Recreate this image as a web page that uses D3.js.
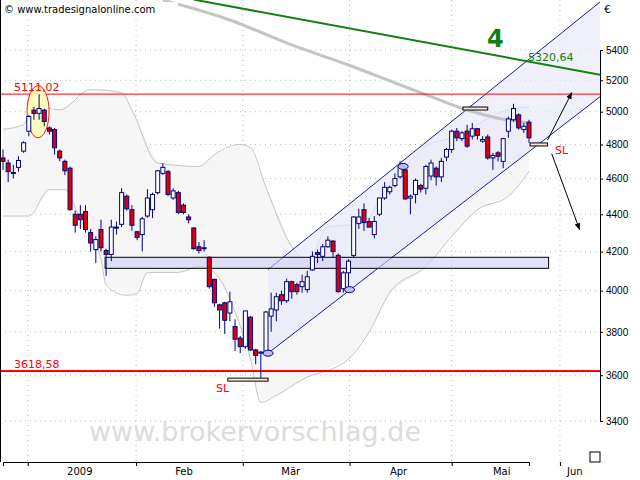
<!DOCTYPE html>
<html><head><meta charset="utf-8">
<script src="https://cdn.jsdelivr.net/npm/d3@7"></script>
<style>body{margin:0;background:#fff}svg{display:block;font-family:"DejaVu Sans",Verdana,sans-serif}</style>
</head><body><svg id="c" width="640" height="480"></svg>
<script>
// ---- data ----
const opens  = [4720,4690,4635,4665,4760,4880,5010,4990,5010,4900,4890,4760,4700,4660,4400,4400,4415,4300,4210,4317,4205,4185,4330,4345,4500,4425,4305,4290,4390,4425,4520,4630,4640,4490,4520,4450,4385,4325,4225,4215,4170,4057,3930,3940,3890,3825,3770,3730,3870,3715,3700,3705,3875,3905,3980,3950,4045,4030,4020,4005,4105,4195,4175,4225,4255,4180,4010,4090,4180,4350,4425,4360,4290,4400,4490,4525,4560,4610,4650,4490,4510,4560,4545,4615,4660,4610,4725,4770,4880,4835,4880,4850,4895,4820,4845,4720,4750,4700,4880,4950,4980,4890,4935];
const closes = [4700,4640,4630,4705,4810,4970,4990,5020,4940,4880,4780,4720,4645,4425,4340,4370,4317,4245,4263,4220,4185,4330,4325,4520,4430,4340,4275,4375,4490,4510,4645,4665,4510,4530,4410,4410,4370,4215,4205,4220,4020,3940,3905,3855,3945,3765,3730,3900,3715,3690,3705,3895,3910,3970,3950,4045,3995,3995,4045,4070,4175,4185,4225,4260,4200,3995,4090,4150,4385,4385,4355,4330,4360,4490,4550,4550,4600,4670,4485,4500,4590,4540,4670,4690,4610,4700,4770,4880,4840,4870,4790,4895,4855,4830,4720,4735,4730,4835,4955,5020,4900,4910,4840];
const highs  = [4770,4710,4680,4730,4820,4980,5030,5110,5020,4910,4900,4770,4710,4670,4420,4450,4450,4320,4280,4370,4215,4370,4360,4545,4510,4450,4310,4385,4540,4520,4650,4690,4650,4545,4530,4460,4400,4330,4250,4260,4175,4060,3935,3945,3995,3860,3780,3900,3875,3720,3710,3900,3990,3990,4000,4060,4050,4040,4080,4100,4200,4210,4240,4280,4260,4190,4100,4160,4390,4430,4460,4380,4390,4490,4580,4560,4630,4700,4680,4510,4600,4570,4680,4710,4670,4720,4780,4890,4900,4880,4920,4930,4900,4850,4860,4750,4760,4840,4970,5050,4990,4930,4950];
const lows   = [4650,4580,4600,4640,4750,4850,4950,4950,4910,4860,4740,4700,4620,4420,4300,4320,4300,4200,4140,4200,4075,4150,4290,4330,4420,4310,4260,4200,4380,4380,4510,4620,4500,4480,4400,4400,4350,4210,4190,4200,4010,3920,3815,3790,3850,3710,3700,3720,3710,3650,3590,3690,3800,3850,3930,3940,3960,3980,3990,3990,4100,4140,4150,4220,4170,3990,3990,4010,4170,4320,4310,4330,4270,4390,4480,4510,4550,4600,4480,4400,4460,4520,4510,4590,4560,4580,4700,4750,4820,4820,4780,4830,4830,4810,4710,4650,4700,4660,4840,4940,4890,4870,4810];
const upperBand = [[0,4892],[4,4920],[6,5040],[11,5011],[17,5140],[23,5120],[25,5011],[30,4690],[38,4670],[41,4740],[46,4800],[48,4780],[51,4550],[56,4225],[59,4150],[63,4330],[70,4350],[74,4537],[78,4670],[82,4790],[87,4840],[98,5011],[102,5030]];
const lowerBand = [[0,4390],[5,4390],[9,4537],[12,4537],[15,4371],[19,4159],[20,4027],[24,3977],[26,3987],[28,4092],[34,4092],[38,4122],[41,4092],[45,3894],[48,3673],[50,3480],[53,3510],[58,3580],[67,3673],[71,3800],[75,3990],[82,4122],[87,4280],[92,4425],[98,4500],[102,4640]];
const ma200 = [[31,5747],[44,5606],[56,5434],[67,5300],[77,5170],[83,5095],[90,5011],[96,4960],[102,4930]];
const trendLine = [[37,5750],[116,5235]];
const channelLower = [[51.4,3700],[116,5100]];
const channelUpper = [[51.4,4107],[118,5800]];
const zone = {i0:19.8,i1:105.8,v0:4113,v1:4170};
const resistance = 5111.02, support = 3618.58;
const yTicks = [3400,3600,3800,4000,4200,4400,4600,4800,5000,5200,5400];
const monthLabels = ["2009","Feb","Mär","Apr","Mai","Jun"];
const monthLabelIdx = [14.9,35.1,55.8,76.7,96.7,110.9];
const monthStartIdx = [4.8,25.8,46.5,67.2,87,108];

// ---- scales ----
const svg = d3.select("#c");
const x = d3.scaleLinear().domain([0,102]).range([3,529]);
const y = d3.scaleLog().domain([3400,5400]).range([421,50]);
const W = 600, H = 462;
svg.append("defs").append("clipPath").attr("id","pc").append("rect").attr("x",0).attr("y",0).attr("width",W).attr("height",H);
const g = svg.append("g").attr("clip-path","url(#pc)");

g.selectAll(".hg").data(yTicks).join("line").attr("x1",0).attr("x2",W).attr("y1",d=>y(d)).attr("y2",d=>y(d)).attr("stroke","#bbb").attr("stroke-dasharray","1,4");
g.selectAll(".vg").data(monthStartIdx).join("line").attr("x1",d=>x(d)).attr("x2",d=>x(d)).attr("y1",0).attr("y2",H).attr("stroke","#bbb").attr("stroke-dasharray","1,4");

const bandPoly = upperBand.concat(lowerBand.slice().reverse());
g.append("path").attr("d", d3.line().x(d=>x(d[0])).y(d=>y(d[1])).curve(d3.curveLinearClosed)(bandPoly)).attr("fill","#f6f6f6");
const lineC = d3.line().x(d=>x(d[0])).y(d=>y(d[1])).curve(d3.curveMonotoneX);
[upperBand,lowerBand].forEach(b=>g.append("path").attr("d",lineC(b)).attr("fill","none").attr("stroke","#c4c4c4").attr("stroke-width",1));

const chPoly = [channelLower[0],channelLower[1],channelUpper[1],channelUpper[0]];
g.append("path").attr("d",d3.line().x(d=>x(d[0])).y(d=>y(d[1]))(chPoly)+"Z").attr("fill","#e8e8fa").attr("opacity",0.65);
[channelLower,channelUpper].forEach(c=>g.append("line").attr("x1",x(c[0][0])).attr("y1",y(c[0][1])).attr("x2",x(c[1][0])).attr("y2",y(c[1][1])).attr("stroke","#1a1a9a").attr("stroke-width",1));

g.append("rect").attr("x",x(zone.i0)).attr("width",x(zone.i1)-x(zone.i0)).attr("y",y(zone.v1)).attr("height",y(zone.v0)-y(zone.v1)).attr("fill","#d0d0f4").attr("fill-opacity",0.6).attr("stroke","#000").attr("stroke-width",1);

g.append("path").attr("d",lineC(ma200)).attr("fill","none").attr("stroke","#c4c4c4").attr("stroke-width",3);
g.append("line").attr("x1",x(trendLine[0][0])).attr("y1",y(trendLine[0][1])).attr("x2",x(trendLine[1][0])).attr("y2",y(trendLine[1][1])).attr("stroke","#108010").attr("stroke-width",2);

g.append("line").attr("x1",0).attr("x2",W).attr("y1",y(resistance)).attr("y2",y(resistance)).attr("stroke","#f00").attr("stroke-width",1);
g.append("line").attr("x1",0).attr("x2",W).attr("y1",y(support)).attr("y2",y(support)).attr("stroke","#f00").attr("stroke-width",2);

g.append("ellipse").attr("cx",x(6.8)).attr("cy",y(5000)).attr("rx",11).attr("ry",26).attr("fill","#ffffb8").attr("stroke","#f00").attr("opacity",0.9);

const idx = d3.range(opens.length);
const cg = g.append("g");
cg.selectAll(".w").data(idx).join("line").attr("x1",i=>x(i)).attr("x2",i=>x(i)).attr("y1",i=>y(highs[i])).attr("y2",i=>y(lows[i])).attr("stroke","#000080");
cg.selectAll(".b").data(idx).join("rect").attr("x",i=>x(i)-2).attr("width",4)
  .attr("y",i=>y(Math.max(opens[i],closes[i]))).attr("height",i=>Math.max(1,Math.abs(y(opens[i])-y(closes[i]))))
  .attr("fill",i=>closes[i]<opens[i]?"#e00000":"#fff").attr("stroke","#000080").attr("stroke-width",1);

[[51.4,3700],[67.2,4005],[77.6,4670]].forEach(p=>g.append("ellipse").attr("cx",x(p[0])).attr("cy",y(p[1])).attr("rx",5).attr("ry",3).attr("fill","#b8c0f0").attr("stroke","#000080"));

[[43.6,51.4,3580],[89.2,94,5020],[102.2,105.6,4800]].forEach(m=>g.append("rect").attr("x",x(m[0])).attr("width",x(m[1])-x(m[0])).attr("y",y(m[2])-1.5).attr("height",3).attr("fill","#fbe8dc").attr("stroke","#000"));

const defs = svg.select("defs");
defs.append("marker").attr("id","ah").attr("viewBox","0 0 10 10").attr("refX",9).attr("refY",5).attr("markerWidth",7).attr("markerHeight",7).attr("orient","auto")
 .append("path").attr("d","M0,1L10,5L0,9z").attr("fill","#000");
[[[105.6,4827],[110.3,5120]],[[106.4,4745],[111.8,4317]]].forEach(a=>g.append("line").attr("x1",x(a[0][0])).attr("y1",y(a[0][1])).attr("x2",x(a[1][0])).attr("y2",y(a[1][1])).attr("stroke","#000").attr("marker-end","url(#ah)"));

g.append("text").attr("x",14).attr("y",y(resistance)-3).attr("fill","#f00").attr("font-size",11).text("5111,02");
g.append("text").attr("x",14).attr("y",y(support)-3).attr("fill","#f00").attr("font-size",11).text("3618,58");
g.append("text").attr("x",216).attr("y",392).attr("fill","#f00").attr("font-size",11).text("SL");
g.append("text").attr("x",555).attr("y",154).attr("fill","#f00").attr("font-size",11).text("SL");
g.append("text").attr("x",528).attr("y",61).attr("fill","#108010").attr("font-size",11).text("5320,64");
g.append("text").attr("x",487).attr("y",47).attr("fill","#108010").attr("font-size",24).attr("font-weight","bold").text("4");
g.append("text").attr("x",255).attr("y",441).attr("text-anchor","middle").attr("fill","#dcdcdc").attr("font-size",27).text("www.brokervorschlag.de");
g.append("rect").attr("x",0).attr("y",2).attr("width",178).attr("height",14).attr("fill","#fff");
g.append("text").attr("x",4).attr("y",13).attr("fill","#000").attr("font-size",10).text("© www.tradesignalonline.com");

svg.append("line").attr("x1",0.5).attr("x2",0.5).attr("y1",0).attr("y2",H).attr("stroke","#000");
const ya = d3.axisRight(y).tickValues(yTicks).tickFormat(d3.format("d")).tickSize(3);
const yg = svg.append("g").attr("transform",`translate(${W},0)`).call(ya);
yg.selectAll("text").attr("font-size",10).attr("x",6);
yg.select(".domain").attr("stroke","#000");
svg.append("text").attr("x",604).attr("y",13).attr("font-size",11).text("€");
const xa = d3.axisBottom(x).tickValues(monthStartIdx).tickFormat("").tickSize(4);
svg.append("g").attr("transform",`translate(0,${H})`).call(xa).select(".domain").attr("stroke","#000");
svg.selectAll(".ml").data(monthLabels).join("text").attr("x",(d,i)=>x(monthLabelIdx[i])).attr("y",475).attr("text-anchor","middle").attr("font-size",10).text(d=>d);
svg.append("rect").attr("x",590).attr("y",452).attr("width",10).attr("height",10).attr("fill","#fff").attr("stroke","#000");
</script></body></html>
